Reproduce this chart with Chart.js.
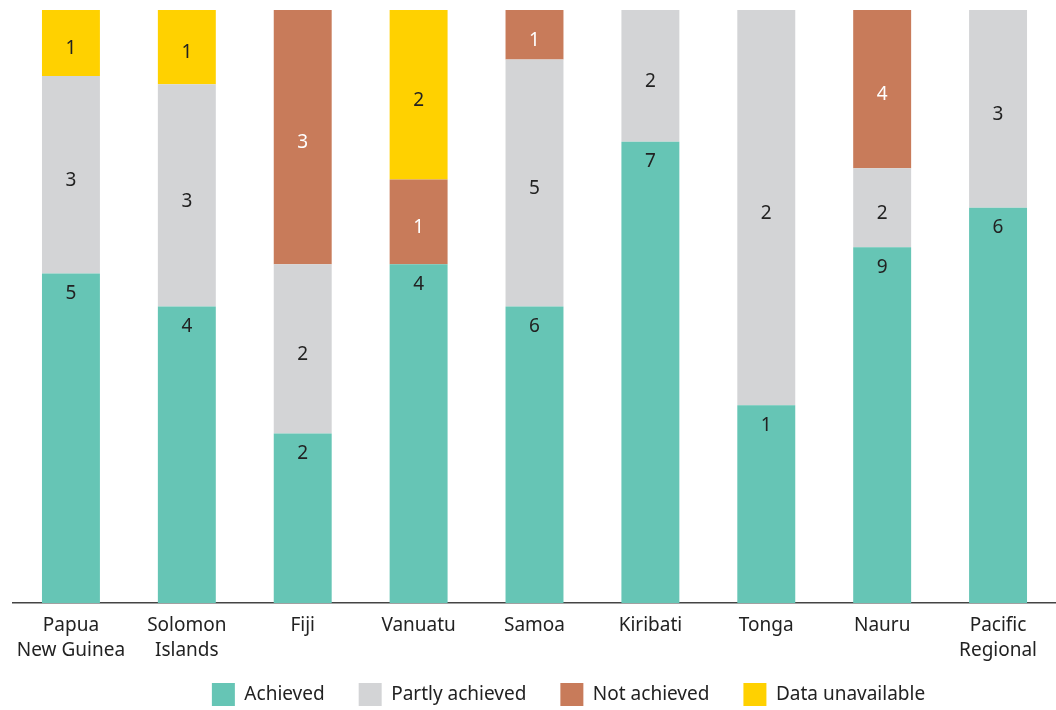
<!DOCTYPE html>
<html>
<head>
<meta charset="utf-8">
<script src="https://cdn.jsdelivr.net/npm/chart.js@4.4.1/dist/chart.umd.min.js"></script>
<style>
    html, body { margin: 0; padding: 0; background: #fff; }
    #wrap { width: 1056px; height: 710px; }
</style>
</head>
<body>
<div id="wrap"><canvas id="results-chart"></canvas></div>
<script>
// data (counts per country)
var categories = [["Papua", "New Guinea"], ["Solomon", "Islands"], "Fiji", "Vanuatu", "Samoa", "Kiribati", "Tonga", "Nauru", ["Pacific", "Regional"]];
var achieved = [5, 4, 2, 4, 6, 7, 1, 9, 6];
var partlyAchieved = [3, 3, 2, 0, 5, 2, 2, 2, 3];
var notAchieved = [0, 0, 3, 1, 1, 0, 0, 4, 0];
var dataUnavailable = [1, 1, 0, 2, 0, 0, 0, 0, 0];
var seriesNames = ["Achieved", "Partly achieved", "Not achieved", "Data unavailable"];

var FONT = "'Noto Sans', 'Open Sans', sans-serif";

function BuildShares(series) {
    var shares = [];
    for (var i = 0; i < categories.length; i++) {
        var total = 0;
        for (var s = 0; s < series.length; s++)
            total += series[s][i];
        shares.push(series.map(function (arr) { return arr[i] / total * 100; }));
    }
    return series.map(function (arr, s) {
        return shares.map(function (row) { return row[s]; });
    });
}

// draws the raw counts on each segment
var countLabels = {
    id: 'countLabels',
    afterDatasetsDraw: function (chart) {
        var ctx = chart.ctx;
        ctx.save();
        ctx.font = "19px " + FONT;
        ctx.textAlign = "center";
        ctx.textBaseline = "middle";
        chart.data.datasets.forEach(function (ds, di) {
            var meta = chart.getDatasetMeta(di);
            meta.data.forEach(function (bar, i) {
                var count = ds.counts[i];
                if (!count) return;
                var y;
                if (di === 0)
                    y = bar.y + 20;
                else
                    y = (bar.y + bar.base) / 2 + 6;
                ctx.fillStyle = ds.labelColor;
                ctx.fillText(String(count), bar.x, y);
            });
        });
        ctx.restore();
    }
};

// legend sits a little right of centre in the original
var legendShift = {
    id: 'legendShift',
    afterLayout: function (chart) {
        if (!chart.legend) return;
        chart.legend.left += 34;
        chart.legend.right += 34;
    }
};

function BuildChart() {
    var ctx = document.getElementById('results-chart');
    var raw = [achieved, partlyAchieved, notAchieved, dataUnavailable];
    var shares = BuildShares(raw);
    var colors = ["#66C5B5", "#D3D4D6", "#C87B5A", "#FFD100"];
    var labelColors = ["#222222", "#222222", "#FFFFFF", "#222222"];

    var datasets = [];
    for (var s = 0; s < raw.length; s++) {
        datasets.push({
            label: seriesNames[s],
            data: shares[s],
            counts: raw[s],
            labelColor: labelColors[s],
            backgroundColor: colors[s],
            borderWidth: 0,
            barPercentage: 0.5,
            categoryPercentage: 1.0
        });
    }

    new Chart(ctx, {
        type: 'bar',
        data: { labels: categories, datasets: datasets },
        plugins: [countLabels, legendShift],
        options: {
            responsive: true,
            maintainAspectRatio: false,
            animation: false,
            layout: { padding: { top: 10, left: 13, right: 0, bottom: -6 } },
            plugins: {
                tooltip: { enabled: false },
                legend: {
                    position: 'bottom',
                    labels: {
                        boxWidth: 23,
                        boxHeight: 23,
                        padding: 34,
                        color: "#222222",
                        font: { family: FONT, size: 19 }
                    }
                }
            },
            scales: {
                x: {
                    stacked: true,
                    grid: { display: false, drawTicks: false },
                    border: { display: true, color: "#444444", width: 1.5 },
                    ticks: {
                        color: "#222222",
                        padding: 10,
                        maxRotation: 0,
                        autoSkip: false,
                        font: { family: FONT, size: 19, lineHeight: 1.32 }
                    },
                    afterFit: function (scale) {
                        // labels overlap the legend's top padding, so keep the box short
                        scale.height = 46;
                        scale._computeLabelArea = function () { return undefined; };
                    }
                },
                y: {
                    stacked: true,
                    display: false,
                    min: 0,
                    max: 100
                }
            }
        }
    });
}

BuildChart();
</script>
</body>
</html>
